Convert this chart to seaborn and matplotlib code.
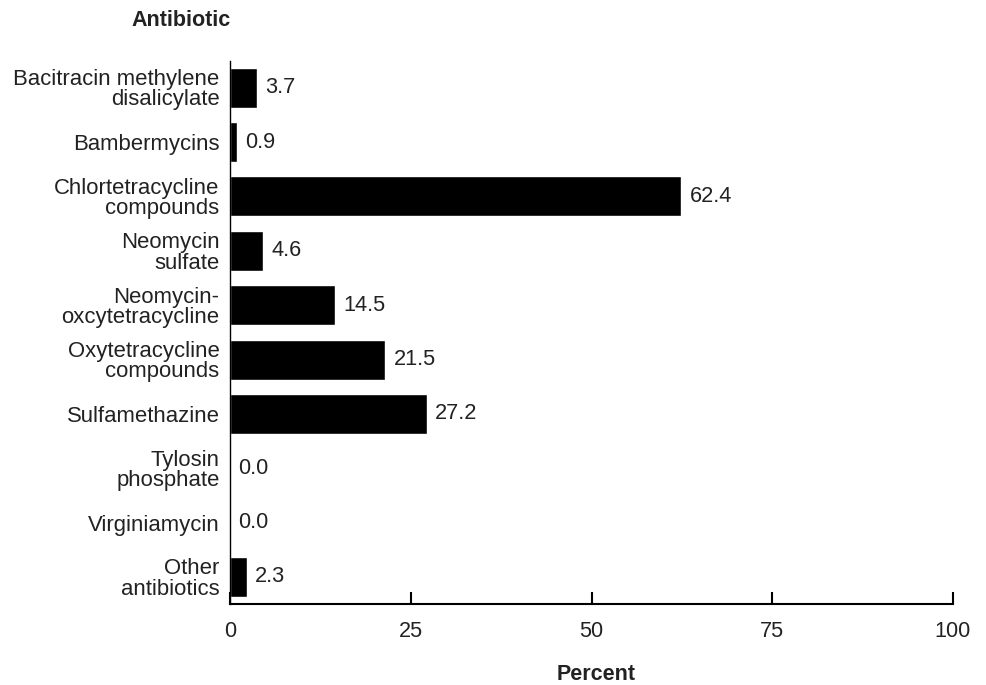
import pandas as pd
import matplotlib
matplotlib.use("Agg")
import matplotlib.pyplot as plt
import seaborn as sns

# values
antibiotics = ["Bacitracin methylene\ndisalicylate", "Bambermycins",
               "Chlortetracycline\ncompounds", "Neomycin\nsulfate",
               "Neomycin-\noxcytetracycline", "Oxytetracycline\ncompounds",
               "Sulfamethazine", "Tylosin\nphosphate", "Virginiamycin",
               "Other\nantibiotics"]
percent = [3.7, 0.9, 62.4, 4.6, 14.5, 21.5, 27.2, 0.0, 0.0, 2.3]
xticks = [0, 25, 50, 75, 100]

df = pd.DataFrame({"Antibiotic": antibiotics, "Percent": percent})

sns.set_style("white")
plt.rcParams["font.family"] = ["Liberation Sans", "DejaVu Sans"]
txt = "#222222"

fig = plt.figure(figsize=(9.86, 6.85), dpi=100)
ax = fig.add_axes([0.2333, 0.118, 0.7332, 0.7936])

sns.barplot(data=df, x="Percent", y="Antibiotic", orient="h", color="black",
            saturation=1, width=0.735, ax=ax)

for i, v in enumerate(percent):
    ax.annotate(f"{v:.1f}", (v, i), xytext=(6, 0), textcoords="offset points",
                va="center", ha="left", fontsize=15.7, color=txt)

ax.set_xlim(0, 100)
ax.set_ylim(9.5, -0.5)
ax.set_xticks(xticks)
ax.set_xticklabels([str(t) for t in xticks])
ax.tick_params(axis="x", direction="in", length=8.6, width=1.5, pad=12,
               labelsize=15.6, labelcolor=txt, color="black", bottom=True)
ax.tick_params(axis="y", length=0, pad=7.5, labelsize=15.9, labelcolor=txt)
for lab in ax.get_yticklabels():
    lab.set_linespacing(0.95)

for s in ["top", "right"]:
    ax.spines[s].set_visible(False)
ax.spines["bottom"].set_linewidth(1.5)
ax.spines["bottom"].set_color("black")
ax.spines["left"].set_linewidth(1.0)
ax.spines["left"].set_color("black")

ax.set_xlabel("")
ax.set_ylabel("")
fig.text(231 / 986, 1 - 20 / 685, "Antibiotic", ha="right", va="center",
         fontsize=15.5, fontweight="bold", color=txt)
fig.text(596 / 986, 1 - 674 / 685, "Percent", ha="center", va="center",
         fontsize=15.5, fontweight="bold", color=txt)

fig.savefig("out.png", dpi=100)
